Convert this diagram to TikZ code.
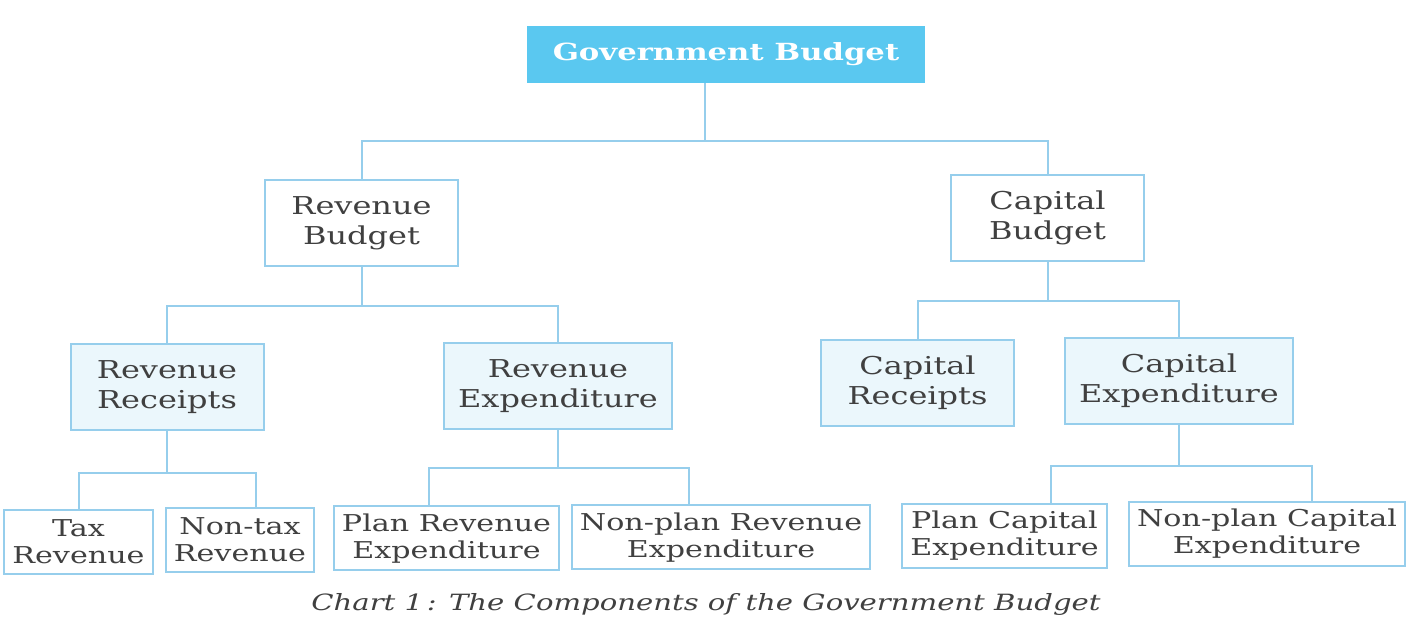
\documentclass[tikz,border=0pt]{standalone}
\usepackage{fontspec}
\newfontfamily\chartfont[FakeStretch=1.3]{DejaVu Serif}
\usepackage{xcolor}
\definecolor{chartLine}{RGB}{150,206,236}
\definecolor{chartFill}{RGB}{235,247,252}
\definecolor{chartTop}{RGB}{90,200,240}
\definecolor{chartText}{RGB}{64,64,64}
\usepackage{tikz}
\usetikzlibrary{shapes}
\usetikzlibrary{positioning}
\tikzstyle{box} = [rectangle, draw=chartLine, line width=1pt, text=chartText,
        align=center, font={\chartfont\fontsize{12.3}{15}\selectfont}]
\tikzstyle{top} = [box, fill=chartTop, draw=chartTop, text=white,
        minimum width=198pt, minimum height=27.5pt, font={\chartfont\bfseries\fontsize{11.8}{15}\selectfont}]
\tikzstyle{budget} = [box, fill=white, minimum width=96.5pt, minimum height=43pt, inner xsep=7pt]
\tikzstyle{part} = [box, fill=chartFill, minimum width=96.5pt, minimum height=43pt, inner xsep=7pt]
\tikzstyle{item} = [box, fill=white, minimum height=32pt, inner xsep=4pt,
        font={\chartfont\fontsize{11.6}{13.5}\selectfont}]
\tikzstyle{link} = [draw=chartLine, line width=1pt]
\tikzstyle{caption} = [text=chartText, font={\chartfont\itshape\fontsize{11.2}{13}\selectfont}]

\begin{document}
\begin{tikzpicture}[x=0.5pt, y=-0.5pt]
                \useasboundingbox (0,0) rectangle (1425,624);
                \draw (726,54.5)
                    node [top] (gov) {Government Budget}
                    +(-364.5,168.5)
                    node [budget] (revB) {Revenue\\Budget}
                    +(321.5,163.5)
                    node [budget] (capB) {Capital\\Budget}
                    +(-559,333)
                    node [part] (revR) {Revenue\\Receipts}
                    +(-168,332)
                    node [part] (revE) {Revenue\\Expenditure}
                    +(191.5,328.5)
                    node [part] (capR) {Capital\\Receipts}
                    +(453,326.5)
                    node [part] (capE) {Capital\\Expenditure}
                    +(-647.5,487.5)
                    node [item] (tax) {Tax\\Revenue}
                    +(-486,485.5)
                    node [item] (nontax) {Non-tax\\Revenue}
                    +(-279.5,484)
                    node [item] (planRE) {Plan Revenue\\Expenditure}
                    +(-5,483)
                    node [item] (nonplanRE) {Non-plan Revenue\\Expenditure}
                    +(278.5,481.5)
                    node [item] (planCE) {Plan Capital\\Expenditure}
                    +(541,479.5)
                    node [item] (nonplanCE) {Non-plan Capital\\Expenditure}
                    +(-20,549.5)
                    node [caption] (chart) {Chart 1\,: The Components of the Government Budget};

                \draw [link] ([xshift=-10.5pt]gov.south) -- +(0,58) coordinate (govbar);
                \draw [link] (revB.north) |- (govbar) -| (capB.north);
                \draw [link] (revB.south) -- +(0,39) coordinate (revbar);
                \draw [link] (revR.north) |- (revbar) -| (revE.north);
                \draw [link] (capB.south) -- +(0,39) coordinate (capbar);
                \draw [link] (capR.north) |- (capbar) -| (capE.north);
                \draw [link] (revR.south) -- +(0,42) coordinate (rrbar);
                \draw [link] (tax.north) |- (rrbar) -| ([xshift=8pt]nontax.north);
                \draw [link] (revE.south) -- +(0,38) coordinate (rebar);
                \draw [link] ([xshift=-9pt]planRE.north) |- (rebar) -| ([xshift=-16pt]nonplanRE.north);
                \draw [link] (capE.south) -- +(0,41) coordinate (cebar);
                \draw [link] ([xshift=23pt]planCE.north) |- (cebar) -| ([xshift=22.5pt]nonplanCE.north);
            \end{tikzpicture}
\end{document}
